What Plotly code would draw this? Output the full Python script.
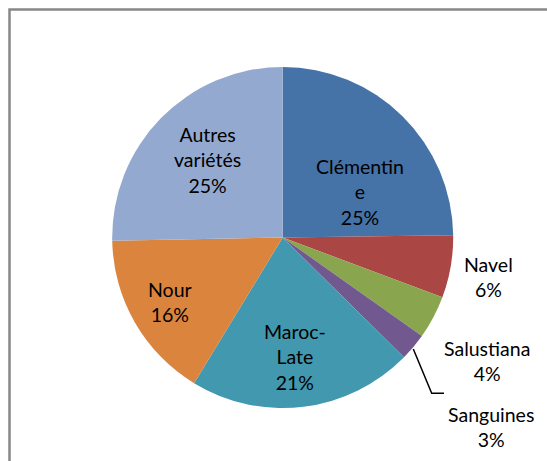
import plotly.graph_objects as go

# ---- data ----
varieties = ["Clémentine", "Navel", "Salustiana", "Sanguines", "Maroc-Late", "Nour", "Autres variétés"]
shares = [24.8, 5.9, 4.1, 2.6, 21.3, 16.0, 25.3]
wrapped_labels = ["Clémentin<br>e", "Navel", "Salustiana", "Sanguines", "Maroc-<br>Late", "Nour", "Autres<br>variétés"]
colors = ["#4572A7", "#AA4643", "#89A54E", "#71588F", "#4198AF", "#DB843D", "#93A9CF"]

# ---- layout (pixel positions for label blocks) ----
W, H = 547, 461
cx, cy, r = 282.7, 237.5, 170.5
label_pos = [(360, 192), (488, 277), (487, 361), (491, 427), (295, 357), (170, 302), (207, 160)]

total = sum(shares)
fig = go.Figure(go.Pie(
    labels=varieties,
    values=shares,
    sort=False,
    direction="clockwise",
    rotation=0,
    marker=dict(colors=colors, line=dict(width=0)),
    textinfo="none",
    hoverinfo="label+percent",
    showlegend=False,
    domain=dict(x=[(cx - r) / W, (cx + r) / W], y=[(H - cy - r) / H, (H - cy + r) / H]),
))

annotations = []
for lab, v, (px, py) in zip(wrapped_labels, shares, label_pos):
    annotations.append(dict(
        x=px / W, y=1 - py / H, xref="paper", yref="paper",
        text=f"{lab}<br>{round(v / total * 100)}%",
        showarrow=False, xanchor="center", yanchor="middle", align="center",
        font=dict(family="Lato", size=19.5, color="#000000"),
    ))

shapes = [
    # outer frame (cropped at right and bottom)
    dict(type="rect", xref="paper", yref="paper",
         x0=9.5 / W, x1=1.1, y0=-0.1, y1=1 - 9.5 / H,
         line=dict(color="#888888", width=2.5), fillcolor="rgba(0,0,0,0)"),
    # leader line for Sanguines
    dict(type="path", xref="paper", yref="paper",
         path=f"M {413.3 / W} {1 - 349 / H} L {431.7 / W} {1 - 393.3 / H} L {444 / W} {1 - 393.3 / H}",
         line=dict(color="#000000", width=1.5)),
]

fig.update_layout(
    width=W, height=H,
    margin=dict(l=0, r=0, t=0, b=0),
    paper_bgcolor="white", plot_bgcolor="white",
    annotations=annotations,
    shapes=shapes,
)

fig.write_html("out.html", config={"displayModeBar": False},
               post_script="document.body.style.margin='0';document.body.style.overflow='hidden';")
